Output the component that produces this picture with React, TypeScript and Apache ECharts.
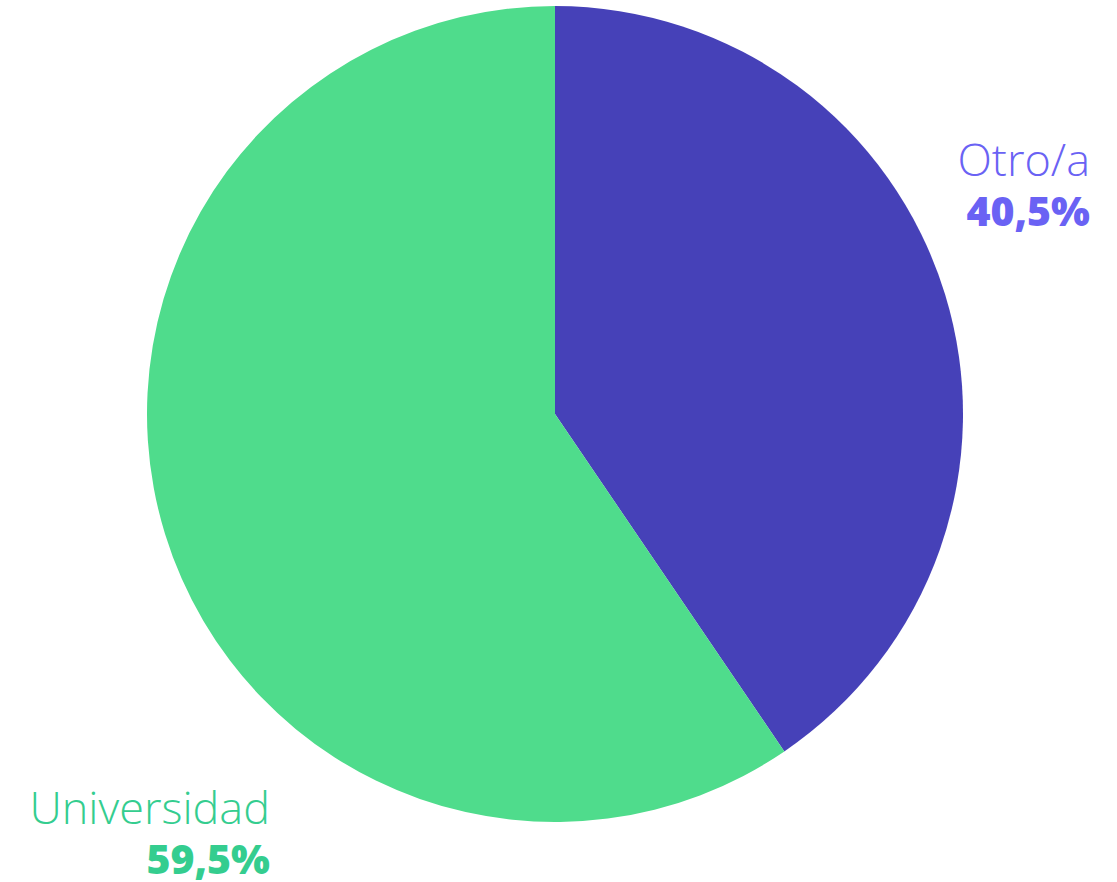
import React, { useEffect, useRef } from "react";
import * as echarts from "echarts";

const categories = ["Otro/a", "Universidad"];
const values = [40.5, 59.5];
const sliceColors = ["#4641B8", "#4FDC8C"];
const labelColors = ["#6A62F4", "#34CD8F"];
const percentLabels = ["40,5%", "59,5%"];

export default function App() {
  const ref = useRef<HTMLDivElement>(null);
  useEffect(() => {
    document.body.style.margin = "0";
    const chart = echarts.init(ref.current!, null, { renderer: "svg" });
    const labelPos = [
      { x: 1090, y: 125 },
      { x: 270, y: 773 },
    ];
    chart.setOption({
      animation: false,
      series: [
        {
          type: "pie",
          center: [555, 414],
          radius: [0, 408],
          startAngle: 90,
          clockwise: true,
          data: categories.map((c, i) => ({
            name: c,
            value: values[i],
            itemStyle: { color: sliceColors[i] },
          })),
          label: { show: false },
          labelLine: { show: false },
          silent: true,
        },
      ],
      graphic: categories.map((c, i) => ({
        type: "text",
        x: labelPos[i].x,
        y: labelPos[i].y,
        style: {
          text: `{n|${c}}\n{p|${percentLabels[i]}}`,
          align: "right",
          verticalAlign: "top",
          rich: {
            n: {
              fill: labelColors[i],
              color: labelColors[i],
              fontFamily: "Open Sans",
              fontWeight: 300,
              fontSize: 45,
              lineHeight: 66,
              align: "right",
            },
            p: {
              fill: labelColors[i],
              color: labelColors[i],
              fontFamily: "Open Sans",
              fontWeight: 800,
              fontSize: 41,
              lineHeight: 38,
              align: "right",
            },
          },
        },
      })),
    });
    return () => chart.dispose();
  }, []);
  return <div ref={ref} style={{ width: 1117, height: 882 }} />;
}
